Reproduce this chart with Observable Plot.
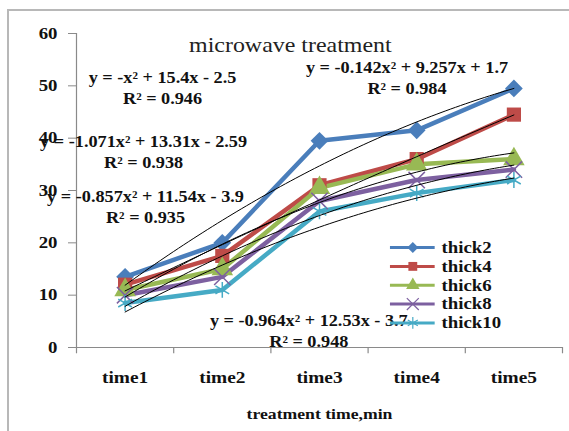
<!DOCTYPE html>
<html>
<head>
<meta charset="utf-8">
<script src="https://cdn.jsdelivr.net/npm/d3@7"></script>
<script src="https://cdn.jsdelivr.net/npm/@observablehq/plot@0.6"></script>
<style>
  body { margin: 0; background: #fff; }
  #wrap { position: relative; width: 569px; height: 431px; overflow: hidden; background: #fff; }
  #frame { position: absolute; left: 7px; top: 9px; width: 620px; height: 520px;
           border-left: 2px solid #b8b8b8; border-top: 2px solid #b8b8b8; }
  #chart { position: absolute; left: 0; top: 0; }
</style>
</head>
<body>
<div id="wrap"><div id="frame"></div><div id="chart"></div></div>
<script>
// Categories and series
const times = ["time1", "time2", "time3", "time4", "time5"];
const seriesNames = ["thick2", "thick4", "thick6", "thick8", "thick10"];
const thick2 = [13.5, 20, 39.5, 41.5, 49.5];
const thick4 = [12, 17.5, 31, 36, 44.5];
const thick6 = [11, 15, 30.5, 35, 36];
const thick8 = [10, 13.5, 28, 32, 34];
const thick10 = [8.5, 11, 26, 29.5, 32];
const yTicks = [0, 10, 20, 30, 40, 50, 60];

// Polynomial trendlines y = a·x² + b·x + c, one per series, with R²
const trendA = [-1, -0.142, -1.071, -0.964, -0.857];
const trendB = [15.4, 9.257, 13.31, 12.53, 11.54];
const trendC = [-2.5, 1.7, -2.59, -3.7, -3.9];
const trendR2 = ["0.946", "0.984", "0.938", "0.948", "0.935"];

const colors = ["#4a7ebb", "#be4b48", "#98b954", "#7d60a0", "#46aac5"];
const symbols = ["diamond2", "square", "triangle", "times", "asterisk"];
const seriesValues = [thick2, thick4, thick6, thick8, thick10];

// Long-format rows for lines and markers (x = category index 1..5)
const rows = seriesNames.flatMap((s, k) =>
  seriesValues[k].map((v, i) => ({series: s, x: i + 1, y: v})));

// Sampled trend curves from x = 1 to x = 5
const trendRows = seriesNames.flatMap((s, k) =>
  d3.range(1, 5.0001, 0.05).map(x => ({
    series: s, x, y: trendA[k] * x * x + trendB[k] * x + trendC[k]
  })));

// Equation text built from the coefficients
const fmtEq = k => {
  const a = trendA[k], b = trendB[k], c = trendC[k];
  const aTxt = a === -1 ? "-x²" : a === 1 ? "x²" : `${a}x²`;
  const cTxt = c < 0 ? `- ${-c}` : `+ ${c}`;
  return `y = ${aTxt} + ${b}x ${cTxt}`;
};
// Placement of each equation block (x in category units, y in data units)
const eqAt = [[1.385, 51.6], [3.9, 53.4], [1.19, 39.3], [2.89, 5.1], [1.21, 28.8]];
const eqRows = seriesNames.map((s, k) => ({x: eqAt[k][0], y: eqAt[k][1], text: fmtEq(k)}));
const r2Rows = seriesNames.map((s, k) => ({x: eqAt[k][0], y: eqAt[k][1] - 4.0, text: `R² = ${trendR2[k]}`}));

// Legend rows
const legendRows = seriesNames.map((s, k) => ({series: s, y: 19.1 - k * 3.6}));

const ink = "#111";
const grey = "#8a8a8a";
const serif = "Liberation Serif, Times New Roman, serif";

const filled = ["thick2", "thick4", "thick6"];

const chart = Plot.plot({
  width: 569,
  height: 431,
  marginLeft: 76,
  marginRight: 7,
  marginTop: 33,
  marginBottom: 84,
  style: {fontFamily: serif, background: "transparent", overflow: "visible"},
  x: {type: "linear", domain: [0.5, 5.5]},
  y: {domain: [0, 60]},
  color: {domain: seriesNames, range: colors},
  symbol: {domain: seriesNames, range: symbols},
  marks: [
    // axes lines and category boundary ticks
    Plot.ruleY([0], {stroke: grey, strokeWidth: 1.2}),
    Plot.ruleX([0.5], {y1: 0, y2: 60, stroke: grey, strokeWidth: 1.2}),
    Plot.ruleX(d3.range(0.5, 6, 1), {y1: 0, y2: -1.2, stroke: grey, strokeWidth: 1.2}),
    Plot.axisY({ticks: yTicks, tickSize: 8, tickPadding: 11, fontSize: 16.5, fontWeight: "bold",
                stroke: grey, fill: ink, label: null, tickFormat: d => String(d)}),
    Plot.axisX({ticks: [1, 2, 3, 4, 5], tickFormat: d => times[d - 1], tickSize: 0, tickPadding: 23,
                fontSize: 17, fontWeight: "bold", fill: ink, label: null}),

    // series
    Plot.line(rows, {x: "x", y: "y", z: "series", stroke: "series", strokeWidth: 4.5, strokeLinejoin: "round"}),
    Plot.dot(rows.filter(d => filled.includes(d.series)),
             {x: "x", y: "y", symbol: "series", fill: "series", r: 8}),
    Plot.dot(rows.filter(d => !filled.includes(d.series)),
             {x: "x", y: "y", symbol: "series", stroke: "series", r: 7.5, strokeWidth: 1.5}),

    // trend curves
    Plot.line(trendRows, {x: "x", y: "y", z: "series", stroke: "#000", strokeWidth: 1, curve: "linear"}),

    // equation labels
    Plot.text(eqRows, {x: "x", y: "y", text: "text", fontSize: 16, fontWeight: "bold", fill: ink}),
    Plot.text(r2Rows, {x: "x", y: "y", text: "text", fontSize: 16, fontWeight: "bold", fill: ink}),

    // title and axis title
    Plot.text(["microwave treatment"], {x: 2.7, y: 57.7, fontSize: 21, fill: "#222"}),
    Plot.text(["treatment time,min"], {x: 3, y: -12.8, fontSize: 15.5, fontWeight: "bold", fill: ink}),

    // legend
    Plot.ruleY(legendRows, {y: "y", x1: 3.73, x2: 4.19, stroke: "series", strokeWidth: 3}),
    Plot.dot(legendRows.filter(d => filled.includes(d.series)),
             {x: 3.96, y: "y", symbol: "series", fill: "series", r: 5}),
    Plot.dot(legendRows.filter(d => !filled.includes(d.series)),
             {x: 3.96, y: "y", symbol: "series", stroke: "series", r: 5.5, strokeWidth: 1.2}),
    Plot.text(legendRows, {x: 4.255, y: "y", text: "series", textAnchor: "start",
                           fontSize: 16.5, fontWeight: "bold", fill: ink})
  ]
});

// Widen glyphs a little around each text anchor
chart.querySelectorAll("text").forEach(t => {
  const tr = t.getAttribute("transform");
  if (tr) t.setAttribute("transform", tr + " scale(1.14,1)");
});

document.getElementById("chart").appendChild(chart);
</script>
</body>
</html>
